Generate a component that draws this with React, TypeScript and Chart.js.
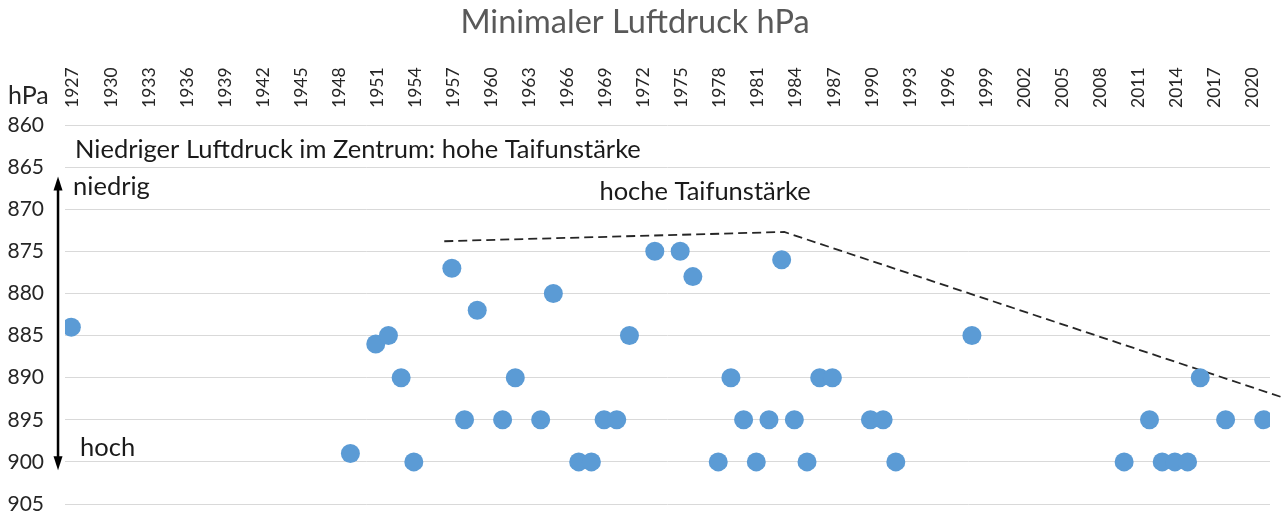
import { useEffect, useRef } from 'react';
import { Chart, registerables } from 'chart.js';

Chart.register(...registerables);

// Years of the typhoons and their minimal central pressure (hPa)
const stormYears = [1927, 1949, 1951, 1952, 1953, 1954, 1957, 1958, 1959, 1961, 1962, 1964, 1965, 1967, 1968, 1969, 1970, 1971, 1973, 1975, 1976, 1978, 1979, 1980, 1981, 1982, 1983, 1984, 1985, 1986, 1987, 1990, 1991, 1992, 1998, 2010, 2012, 2013, 2014, 2015, 2016, 2018, 2021];
const minPressure = [884, 899, 886, 885, 890, 900, 877, 895, 882, 895, 890, 895, 880, 900, 900, 895, 895, 885, 875, 875, 878, 900, 890, 895, 900, 895, 876, 895, 900, 890, 890, 895, 895, 900, 885, 900, 895, 900, 900, 900, 890, 895, 895];

// Year tick labels on the top axis
const tickYears = [1927, 1930, 1933, 1936, 1939, 1942, 1945, 1948, 1951, 1954, 1957, 1960, 1963, 1966, 1969, 1972, 1975, 1978, 1981, 1984, 1987, 1990, 1993, 1996, 1999, 2002, 2005, 2008, 2011, 2014, 2017, 2020];

// Dashed envelope line
const trendYears = [1956.4, 1983.2, 2022.4];
const trendPressure = [873.8, 872.7, 892.3];

// Annotations
const noteTexts = ['Niedriger Luftdruck im Zentrum: hohe Taifunstärke', 'niedrig', 'hoch', 'hoche Taifunstärke'];
const noteYears = [1927.29, 1927.14, 1927.69, 1976.96];
const notePressures = [863.0, 867.3, 898.3, 867.9];

// Double arrow on the left
const arrowYear = 1925.95;
const arrowRange = [866.1, 901.0];

const FONT = 'Lato, "Open Sans", sans-serif';

const overlayPlugin = {
  id: 'overlay',
  afterDatasetsDraw(chart: any) {
    const { ctx, scales, chartArea } = chart;
    const x = scales.x;
    const y = scales.y;
    ctx.save();

    // rotated year labels of the top axis
    ctx.font = `17.5px ${FONT}`;
    ctx.fillStyle = '#262626';
    ctx.textAlign = 'left';
    ctx.textBaseline = 'middle';
    tickYears.forEach((yr) => {
      ctx.save();
      ctx.translate(x.getPixelForValue(yr) + 1.5, chartArea.top - 17);
      ctx.rotate(-Math.PI / 2);
      ctx.fillText(String(yr), 0, 0);
      ctx.restore();
    });

    // arrow
    const ax = x.getPixelForValue(arrowYear);
    const top = y.getPixelForValue(arrowRange[0]);
    const bot = y.getPixelForValue(arrowRange[1]);
    ctx.strokeStyle = '#000';
    ctx.fillStyle = '#000';
    ctx.lineWidth = 2.5;
    ctx.beginPath();
    ctx.moveTo(ax, top + 10);
    ctx.lineTo(ax, bot - 10);
    ctx.stroke();
    ctx.beginPath();
    ctx.moveTo(ax, top);
    ctx.lineTo(ax - 4.5, top + 14);
    ctx.lineTo(ax + 4.5, top + 14);
    ctx.closePath();
    ctx.fill();
    ctx.beginPath();
    ctx.moveTo(ax, bot);
    ctx.lineTo(ax - 4.5, bot - 14);
    ctx.lineTo(ax + 4.5, bot - 14);
    ctx.closePath();
    ctx.fill();

    // notes
    ctx.font = `25.5px ${FONT}`;
    ctx.fillStyle = '#1a1a1a';
    ctx.textBaseline = 'middle';
    noteTexts.forEach((t, i) => {
      ctx.textAlign = i === 3 ? 'center' : 'left';
      ctx.fillText(t, x.getPixelForValue(noteYears[i]), y.getPixelForValue(notePressures[i]));
    });

    // unit label
    ctx.font = `25px ${FONT}`;
    ctx.fillStyle = '#262626';
    ctx.textAlign = 'left';
    ctx.fillText('hPa', 8, 96);
    ctx.restore();
  },
};

export default function App() {
  const canvasRef = useRef<HTMLCanvasElement | null>(null);

  useEffect(() => {
    document.body.style.margin = '0';
    const canvas = canvasRef.current;
    if (!canvas) return;
    const chart = new Chart(canvas, {
      type: 'scatter',
      data: {
        datasets: [
          {
            label: 'Minimaler Luftdruck',
            data: stormYears.map((yr, i) => ({ x: yr, y: minPressure[i] })),
            backgroundColor: '#5B9BD5',
            borderWidth: 0,
            pointRadius: 9.5,
            pointHoverRadius: 9.5,
          },
          {
            type: 'line',
            label: 'Trend',
            data: trendYears.map((yr, i) => ({ x: yr, y: trendPressure[i] })),
            borderColor: '#262626',
            borderWidth: 1.8,
            borderDash: [9, 5],
            pointRadius: 0,
            fill: false,
            clip: false as any,
            tension: 0,
          } as any,
        ],
      },
      options: {
        responsive: false,
        animation: false,
        layout: { autoPadding: false, padding: { left: 0, right: 12, top: 0, bottom: 11 } },
        plugins: {
          legend: { display: false },
          tooltip: { enabled: false },
          title: {
            display: true,
            text: 'Minimaler Luftdruck hPa',
            color: '#595959',
            font: { family: FONT, size: 32.5, weight: 'normal' },
            padding: { top: 3, bottom: 0 },
          },
        },
        scales: {
          x: {
            type: 'linear',
            position: 'top',
            min: 1926.5,
            max: 2021.5,
            afterBuildTicks: (axis: any) => {
              axis.ticks = tickYears.map((v) => ({ value: v }));
            },
            afterFit: (s: any) => {
              s.height = 83;
              s.paddingLeft = 0;
              s.paddingRight = 0;
            },
            grid: { display: false, drawTicks: false },
            border: { display: false },
            ticks: { display: false },
          },
          y: {
            type: 'linear',
            reverse: true,
            min: 860,
            max: 905,
            afterFit: (s: any) => {
              s.width = 65;
              s.paddingTop = 0;
              s.paddingBottom = 0;
            },
            grid: { color: '#D9D9D9', lineWidth: 1, drawTicks: false },
            border: { display: false },
            ticks: {
              stepSize: 5,
              padding: 21,
              color: '#262626',
              font: { family: FONT, size: 21 },
            },
          },
        },
      },
      plugins: [overlayPlugin],
    });
    return () => chart.destroy();
  }, []);

  return (
    <div style={{ width: 1282, height: 515 }}>
      <canvas ref={canvasRef} width={1282} height={515} />
    </div>
  );
}
